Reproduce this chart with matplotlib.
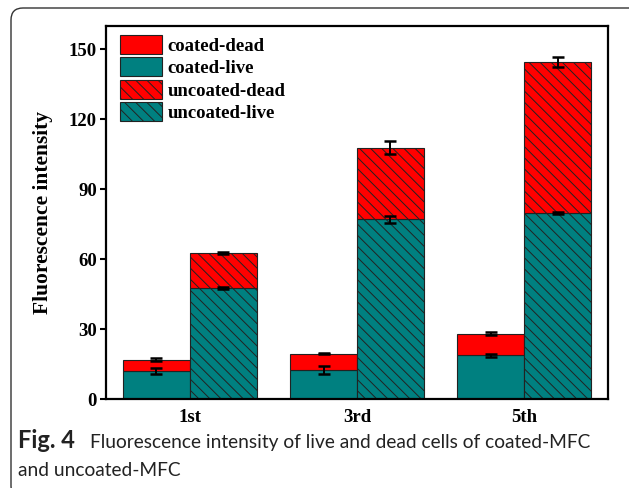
import numpy as np
import matplotlib
matplotlib.use("Agg")
import matplotlib.pyplot as plt
from matplotlib.patches import Patch, FancyBboxPatch
from matplotlib.transforms import IdentityTransform

# data
rounds = ["1st", "3rd", "5th"]
coated_live = [12.0, 12.4, 18.7]
coated_dead = [4.8, 7.0, 9.3]
uncoated_live = [47.6, 77.2, 79.8]
uncoated_dead = [15.2, 30.5, 64.8]
coated_live_err = [1.2, 1.7, 0.6]
coated_total_err = [0.6, 0.3, 0.6]
uncoated_live_err = [0.6, 1.5, 0.6]
uncoated_total_err = [0.4, 2.8, 2.3]
yticks = [0, 30, 60, 90, 120, 150]

red = "#ff0000"
teal = "#008080"
edge = "#222222"
hatch = "\\\\\\"

plt.rcParams["hatch.linewidth"] = 0.7
serif = "Liberation Serif"

fig = plt.figure(figsize=(6.29, 4.88), dpi=100)
ax = fig.add_axes([106 / 629, 1 - 399 / 488, 502 / 629, 373 / 488])

x = np.arange(len(rounds))
w = 0.4
c_tot = np.array(coated_live) + np.array(coated_dead)
u_tot = np.array(uncoated_live) + np.array(uncoated_dead)

ax.bar(x - w / 2, coated_live, w, color=teal, edgecolor=edge, linewidth=0.8)
ax.bar(x - w / 2, coated_dead, w, bottom=coated_live, color=red, edgecolor=edge, linewidth=0.8)
ax.bar(x + w / 2, uncoated_live, w, color=teal, edgecolor=edge, linewidth=0.8, hatch=hatch)
ax.bar(x + w / 2, uncoated_dead, w, bottom=uncoated_live, color=red, edgecolor=edge, linewidth=0.8, hatch=hatch)

eb = dict(fmt="none", ecolor="black", elinewidth=1.4, capsize=4.5, capthick=1.8)
ax.errorbar(x - w / 2, coated_live, yerr=coated_live_err, **eb)
ax.errorbar(x - w / 2, c_tot, yerr=coated_total_err, **eb)
ax.errorbar(x + w / 2, uncoated_live, yerr=uncoated_live_err, **eb)
ax.errorbar(x + w / 2, u_tot, yerr=uncoated_total_err, **eb)

ax.set_xlim(-0.5, 2.5)
ax.set_ylim(0, 160)
ax.set_xticks(x)
ax.set_xticklabels(rounds, fontfamily=serif, fontweight="bold", fontsize=13.5)
ax.set_yticks(yticks)
ax.set_yticklabels([str(v) for v in yticks], fontfamily=serif, fontweight="bold", fontsize=13.5)
ax.tick_params(axis="x", length=0, pad=7)
ax.tick_params(axis="y", direction="out", length=4.5, width=1.5, pad=2)
for s in ax.spines.values():
    s.set_linewidth(1.6)

ax.set_ylabel("Fluorescence intensity", fontfamily=serif, fontweight="bold", fontsize=15.5)
ax.yaxis.set_label_coords(-(106 - 53) / 502, 0.5)

handles = [
    Patch(facecolor=red, edgecolor=edge, linewidth=0.8, label="coated-dead"),
    Patch(facecolor=teal, edgecolor=edge, linewidth=0.8, label="coated-live"),
    Patch(facecolor=red, edgecolor=edge, linewidth=0.8, hatch=hatch, label="uncoated-dead"),
    Patch(facecolor=teal, edgecolor=edge, linewidth=0.8, hatch=hatch, label="uncoated-live"),
]
ax.legend(handles=handles, loc="upper left", bbox_to_anchor=(14 / 502, 1 - 9 / 373),
          frameon=False, borderpad=0, borderaxespad=0, handlelength=2.25,
          handleheight=1.15, handletextpad=0.3, labelspacing=0.15,
          prop=dict(family=serif, weight="bold", size=13.5))

# caption frame and text
frame = FancyBboxPatch((11, -10), 640, 490, boxstyle="round,pad=0,rounding_size=12",
                       transform=IdentityTransform(), facecolor="none",
                       edgecolor="#333333", linewidth=1.0, clip_on=False)
fig.patches.append(frame)

cap = "Lato"
fig.text(18 / 629, 1 - 448 / 488, "Fig. 4", fontfamily=cap, fontweight="bold",
         fontsize=17, va="baseline", color="#222222")
fig.text(90 / 629, 1 - 448 / 488, "Fluorescence intensity of live and dead cells of coated-MFC",
         fontfamily=cap, fontsize=13.8, va="baseline", color="#222222")
fig.text(18 / 629, 1 - 476 / 488, "and uncoated-MFC",
         fontfamily=cap, fontsize=13.8, va="baseline", color="#222222")

fig.savefig("out.png", dpi=100)
